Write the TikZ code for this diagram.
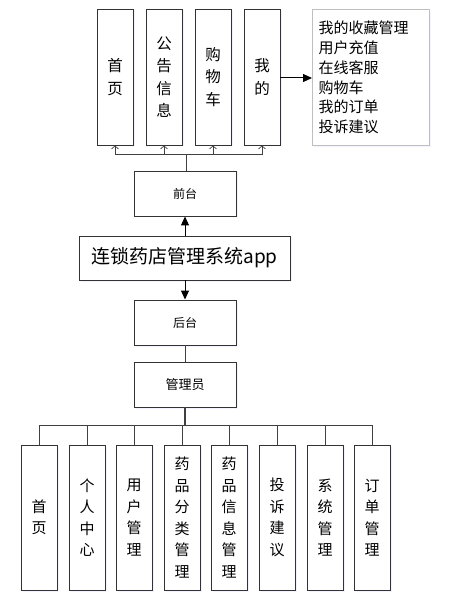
\documentclass[tikz,border=0pt]{standalone}
\usepackage{fontspec}
\setmainfont{Noto Sans CJK SC}
\usetikzlibrary{arrows.meta,shadows}
\begin{document}
\begin{tikzpicture}[x=1pt,y=-1pt,
  shd/.style={drop shadow={shadow xshift=1.5pt,shadow yshift=-1.5pt,opacity=0.18,fill=blue!25}},
  box/.style={draw=black!80,line width=0.95pt,fill=white,inner sep=0pt,shd},
  vbox/.style={box,minimum width=36pt,align=center,font=\fontsize{15}{21.5}\selectfont},
  topbox/.style={vbox,minimum height=136pt,font=\fontsize{15.5}{22.5}\selectfont},
  botbox/.style={vbox,minimum height=145pt},
  midbox/.style={box,minimum width=102pt,minimum height=45pt,font=\fontsize{12}{14}\selectfont},
  conn/.style={draw=black!75,line width=0.9pt},
  openarr/.style={conn,-{Straight Barb[length=3pt,width=7pt,line width=0.7pt]}},
  fillarr/.style={conn,draw=black,line width=1pt,-{Triangle[length=9pt,width=8pt]}}
]
\useasboundingbox (0,0) rectangle (461,601);
% top boxes
\node[topbox] (t1) at (115,77) {首\\页};
\node[topbox] (t2) at (164,77) {公\\告\\信\\息};
\node[topbox] (t3) at (213,77) {购\\物\\车};
\node[topbox] (t4) at (262,77) {我\\的};
% right list box
\node[draw=black!25,line width=1pt,fill=white,shd,anchor=north west,minimum width=117pt,minimum height=136pt,
  inner xsep=6pt,inner ysep=0pt,text width=105pt,align=left,font=\fontsize{15}{19.8}\selectfont]
  (rb) at (312,9) {我的收藏管理\\用户充值\\在线客服\\购物车\\我的订单\\投诉建议};
\draw[fillarr] (t4.east |- 0,78) -- (rb.west |- 0,78);
% front / app / back
\node[midbox] (qt) at (185,193.5) {前台};
\node[box,minimum width=211pt,minimum height=44pt,font=\fontsize{19}{22}\selectfont] (app) at (184.5,258) {连锁药店管理系统app};
\node[midbox] (ht) at (185,322.5) {后台};
\node[midbox,font=\fontsize{13}{15}\selectfont] (gly) at (185,384.5) {管理员};
\draw[fillarr] (app.north -| qt.south) -- (qt.south);
\draw[fillarr] (app.south -| ht.north) -- (ht.north);
\draw[conn] (ht.south) -- (gly.north);
% top bus
\coordinate (tbus) at (186,154);
\draw[conn] (qt.north -| tbus) -- (tbus);
\foreach \n in {t1,t2,t3,t4} \draw[openarr] (tbus) -| (\n.south);
% bottom boxes
\node[botbox] (b1) at (39,517.5) {首\\页};
\node[botbox] (b2) at (87,517.5) {个\\人\\中\\心};
\node[botbox] (b3) at (134,517.5) {用\\户\\管\\理};
\node[botbox] (b4) at (182,517.5) {药\\品\\分\\类\\管\\理};
\node[botbox] (b5) at (229,517.5) {药\\品\\信\\息\\管\\理};
\node[botbox] (b6) at (277,517.5) {投\\诉\\建\\议};
\node[botbox] (b7) at (325,517.5) {系\\统\\管\\理};
\node[botbox] (b8) at (372,517.5) {订\\单\\管\\理};
\coordinate (bbus) at (185,425);
\draw[conn,line width=1.2pt] (gly.south) -- (bbus);
\draw[conn] (b1.north |- bbus) -- (b8.north |- bbus);
\foreach \n in {b1,b2,b3,b4,b5,b6,b7,b8} \draw[conn] (\n.north |- bbus) -- (\n.north);
\end{tikzpicture}
\end{document}
